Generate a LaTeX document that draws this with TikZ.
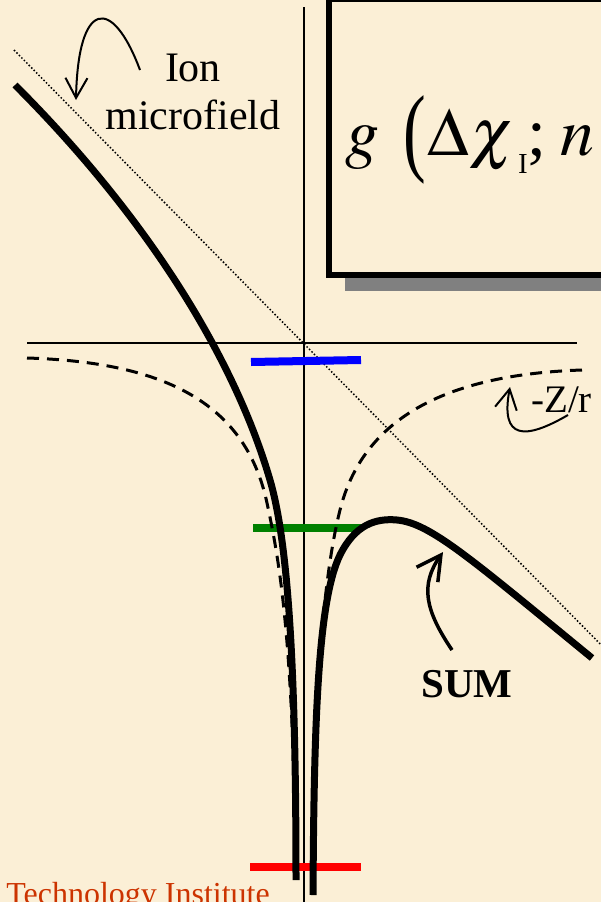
\documentclass[tikz,border=0pt]{standalone}
\usepackage{mathptmx}
\usepackage[no-math]{fontspec}
\setmainfont{Liberation Serif}
\usepackage{graphicx}
\usetikzlibrary{arrows.meta,positioning}

\definecolor{parchment}{RGB}{251,239,214}
\definecolor{shadowgray}{RGB}{128,128,128}
\definecolor{levelblue}{RGB}{0,0,255}
\definecolor{levelgreen}{RGB}{0,128,0}
\definecolor{levelred}{RGB}{255,0,0}
\definecolor{footred}{RGB}{204,51,0}

\begin{document}
\begin{tikzpicture}[x=1pt,y=-1pt,
	axis/.style={line width=1.5pt},
	fieldline/.style={line width=1.5pt, dash pattern=on 1.5pt off 2pt},
	potential/.style={line width=3pt, dash pattern=on 12pt off 8pt},
	sumcurve/.style={line width=7pt},
	level/.style={line width=8pt},
	pointer/.style={line width=2pt, -{Straight Barb[length=20pt,width=22pt]}},
	notetext/.style={inner sep=0pt, font=\fontsize{42}{48}\selectfont, align=center}]

		\useasboundingbox (0,0) rectangle (601,902);
		\clip (0,0) rectangle (601,902);
		\fill[parchment] (0,0) rectangle (601,902);

		% formula box with its shadow
		\fill[shadowgray] (345,15) rectangle (660,291);
		\draw[line width=6pt, fill=parchment] (329,-1) rectangle (644,275);
		\node[anchor=base west, inner sep=0pt, font=\fontsize{68}{68}\selectfont] (formula) at (345,155)
			{$g$\hspace{24pt}\raisebox{-8pt}{\scalebox{1}[1.44]{(}}\hspace{2pt}$\Delta\chi$\hspace{4pt}\raisebox{-18pt}{\fontsize{29}{29}\selectfont I};\hspace{14pt}$n$};

		% axes and field line
		\draw[axis] (27,343) -- (577,343);
		\draw[axis] (304,7) -- (304,902);
		\draw[fieldline] (14,50) -- (620,664);

		% levels
		\draw[level, levelblue] (251,362) -- (361,360);
		\draw[level, levelgreen] (253,528) -- (363,528);
		\draw[level, levelred] (250,867) -- (361,867);

		% -Z/r
		\draw[potential] (27,358) .. controls (160,362) and (245,400) .. (267,503)
			.. controls (280,563) and (293,640) .. (296,870);
		\draw[potential] (582,370) .. controls (460,374) and (365,410) .. (340,510)
			.. controls (330,550) and (314,640) .. (313,870);

		% sum
		\draw[sumcurve] (15,85) .. controls (150,220) and (235,360) .. (270,480)
			.. controls (287.5,540) and (296,660) .. (296,880);
		\draw[sumcurve] (313,895) .. controls (314,720) and (318,600) .. (340,555)
			.. controls (355,525) and (375,518) .. (397,520)
			.. controls (430,523) and (470,558) .. (592,658);

		% labels
		\node[notetext, anchor=north] (ion) at (193,54) {Ion\\microfield};
		\node[anchor=base west, inner sep=0pt, font=\fontsize{39}{39}\selectfont] (potlabel) at (531,412) {-Z/r};
		\node[anchor=base, inner sep=0pt, font=\fontsize{41}{41}\selectfont\bfseries] (sumlabel) at (467,697) {SUM};
		\node[anchor=base east, inner sep=0pt, text=footred, font=\fontsize{32}{32}\selectfont] (footer) at (270,904) {Technology Institute};

		% pointers
		\coordinate (ionTail) at (140,70);
		\coordinate (ionTip) at (76,100);
		\coordinate (potTail) at (568,415);
		\coordinate (potTip) at (510,387);
		\coordinate (sumTail) at (452,650);
		\coordinate (sumTip) at (443,552);
		\draw[pointer] (ionTail) .. controls (112,-5) and (78,0) .. (ionTip);
		\draw[pointer] (potTail) .. controls (525,440) and (500,440) .. (potTip);
		\draw[pointer, line width=3.5pt, -{Straight Barb[length=24pt,width=26pt]}] (sumTail) .. controls (425,610) and (420,585) .. (sumTip);
	\end{tikzpicture}
\end{document}
